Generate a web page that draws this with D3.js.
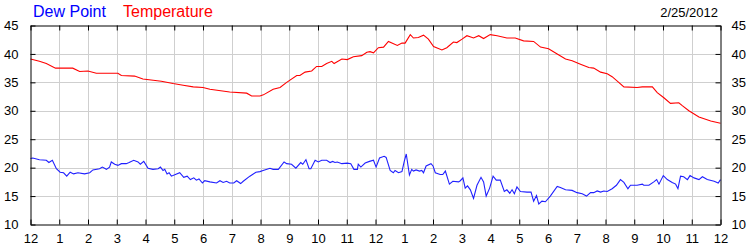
<!DOCTYPE html>
<html>
<head>
<meta charset="utf-8">
<script src="https://cdn.jsdelivr.net/npm/d3@7"></script>
<style>
	body { margin:0; background:#fff; }
	svg { font-family: Arial, "Liberation Sans", sans-serif; }
	.grid line { stroke:#cfcfcf; stroke-width:1; }
	.axis path, .axis line { stroke:#000; }
	.axis text { font-size:13px; fill:#000; }
</style>
</head>
<body>
<div id="chart"></div>
<script>
// hour of the day (0 = midnight) and readings
var tempHours = [0,0.31,0.55,0.87,1.47,1.71,2.00,2.29,3.04,3.16,3.62,3.91,4.55,4.96,5.31,5.66,6.00,6.24,6.93,7.52,7.69,7.98,8.10,8.44,8.68,8.91,9.26,9.37,9.55,9.78,9.95,10.13,10.30,10.48,10.56,10.83,11.02,11.23,11.52,11.70,11.81,11.93,12.10,12.28,12.45,12.76,12.92,13.03,13.21,13.32,13.49,13.67,13.84,14.02,14.31,14.48,14.71,14.83,15.01,15.18,15.41,15.59,15.76,15.99,16.23,16.57,16.86,17.15,17.50,17.74,18.02,18.32,18.61,18.84,19.13,19.42,19.59,19.83,20.06,20.23,20.46,20.64,21.10,21.28,21.63,21.80,22.03,22.26,22.55,22.67,22.90,23.25,23.66,24.00];
var tempValues = [39.1,38.7,38.3,37.5,37.5,36.9,37.0,36.6,36.6,36.2,36.1,35.6,35.2,34.8,34.5,34.2,34.1,33.8,33.3,33.1,32.6,32.6,32.8,33.8,34.1,35.0,36.2,36.2,36.8,37.0,37.8,37.8,38.3,38.7,38.3,39.1,39.0,39.5,39.7,40.3,40.4,40.2,41.1,41.2,42.2,41.5,41.9,41.9,43.4,42.8,42.9,43.3,42.6,41.3,40.7,41.1,42.1,42.0,42.6,43.2,42.8,43.2,42.7,43.4,43.2,42.8,42.8,42.3,42.2,41.2,40.9,40.0,39.1,38.8,38.2,37.6,37.5,36.8,36.5,36.0,35.0,34.2,34.1,34.2,34.2,33.2,32.3,31.3,31.4,30.9,30.0,28.9,28.2,27.8];

var dewHours = [0,0.08,0.31,0.55,0.64,0.76,0.90,1.03,1.15,1.26,1.38,1.50,1.65,1.88,2.06,2.17,2.40,2.50,2.64,2.75,2.81,2.93,3.04,3.16,3.33,3.43,3.59,3.74,3.82,3.94,4.09,4.26,4.44,4.52,4.61,4.67,4.75,4.82,4.90,5.04,5.19,5.33,5.45,5.56,5.68,5.77,5.86,5.98,6.06,6.24,6.47,6.59,6.70,6.82,6.93,7.07,7.17,7.31,7.40,7.63,7.84,7.98,8.09,8.33,8.44,8.62,8.82,8.91,9.08,9.23,9.40,9.47,9.58,9.69,9.75,9.90,10.01,10.13,10.30,10.42,10.51,10.59,10.67,10.83,11.02,11.14,11.25,11.37,11.40,11.49,11.64,11.79,11.93,12.02,12.14,12.30,12.37,12.51,12.62,12.68,12.80,12.92,13.00,13.07,13.18,13.26,13.32,13.41,13.53,13.61,13.67,13.76,13.93,14.00,14.08,14.25,14.34,14.43,14.57,14.69,14.89,14.95,15.04,15.12,15.20,15.30,15.41,15.53,15.67,15.76,15.85,15.97,16.09,16.20,16.34,16.48,16.57,16.67,16.75,16.83,16.92,17.04,17.27,17.41,17.50,17.60,17.68,17.79,17.91,18.08,18.32,18.43,18.61,18.84,19.01,19.19,19.34,19.48,19.59,19.71,19.83,19.94,20.06,20.23,20.38,20.52,20.64,20.78,20.87,21.10,21.28,21.33,21.51,21.68,21.78,21.86,22.01,22.15,22.32,22.44,22.52,22.61,22.72,22.85,22.94,23.08,23.25,23.37,23.54,23.78,23.92,24.00];
var dewValues = [21.6,21.7,21.4,21.3,20.9,21.3,19.8,19.2,19.1,18.5,19.2,18.9,19.1,18.9,19.1,19.6,19.8,20.1,19.7,20.1,21.0,20.6,20.4,20.7,20.7,20.9,21.3,21.0,20.6,21.1,19.9,19.7,19.8,20.1,19.5,19.7,18.9,19.1,18.5,18.8,19.1,18.3,18.5,17.9,18.2,17.8,18.0,17.3,17.7,17.5,17.3,17.7,17.4,17.6,17.3,17.3,17.7,17.2,17.6,18.5,19.2,19.3,19.5,19.9,19.7,19.7,21.0,20.7,20.6,19.9,20.9,20.6,21.4,19.8,19.8,21.3,21.0,21.3,21.3,20.9,21.1,20.9,21.0,20.7,20.8,20.7,19.7,19.7,20.6,20.1,20.8,21.1,21.3,20.1,21.7,22.0,21.8,19.5,19.1,19.5,19.1,19.3,21.1,22.4,18.7,19.7,19.4,19.6,19.4,19.5,19.1,20.3,20.7,20.3,19.1,18.8,18.8,19.4,17.1,17.6,17.5,17.7,18.2,16.4,16.8,16.1,14.6,16.9,18.3,17.5,15.0,16.4,18.5,17.8,17.8,15.8,16.1,15.5,16.1,15.4,16.6,15.8,15.7,15.7,14.1,15.1,13.6,14.1,14.0,15.0,16.7,16.5,16.1,16.0,15.6,15.4,15.0,15.6,15.6,15.9,15.7,15.9,15.8,16.3,16.9,17.9,17.4,16.3,16.9,16.9,17.1,16.9,16.9,17.5,17.9,17.1,18.6,17.9,17.4,17.1,16.3,18.5,18.4,17.9,18.6,18.2,17.9,18.4,17.9,17.6,17.3,17.9];

var hourTicks = d3.range(0, 25);
var hourLabels = ["12","1","2","3","4","5","6","7","8","9","10","11","12","1","2","3","4","5","6","7","8","9","10","11","12"];
var valueTicks = [10,15,20,25,30,35,40,45];
var dateLabel = "2/25/2012";

var width = 750, height = 250;
// plot box (note: "top" is taken by window.top, so use other names)
var plotLeft = 30.5, plotRight = 720.5, plotTop = 25.5, plotBottom = 224.5;

var svg = d3.select("#chart").append("svg")
	.attr("width", width)
	.attr("height", height);

var x = d3.scaleLinear().domain([0, 24]).range([plotLeft, plotRight]);
var y = d3.scaleLinear().domain([10, 45]).range([plotBottom, plotTop]);

// gridlines
var grid = svg.append("g").attr("class","grid");
grid.selectAll("line.v")
	.data(hourTicks.slice(1, 24))
	.enter().append("line")
	.attr("class","v")
	.attr("x1", function(d){ return Math.round(x(d)) + 0.5; })
	.attr("x2", function(d){ return Math.round(x(d)) + 0.5; })
	.attr("y1", plotTop)
	.attr("y2", plotBottom);
grid.selectAll("line.h")
	.data(valueTicks.slice(1, valueTicks.length - 1))
	.enter().append("line")
	.attr("class","h")
	.attr("x1", plotLeft)
	.attr("x2", plotRight)
	.attr("y1", function(d){ return Math.round(y(d)) + 0.5; })
	.attr("y2", function(d){ return Math.round(y(d)) + 0.5; });

// lines
var line = d3.line()
	.x(function(d){ return x(d[0]); })
	.y(function(d){ return y(d[1]); });

var tempData = tempHours.map(function(h, i){ return [h, tempValues[i]]; });
var dewData = dewHours.map(function(h, i){ return [h, dewValues[i]]; });

svg.append("path")
	.datum(tempData)
	.attr("fill","none")
	.attr("stroke","#ff0000")
	.attr("stroke-width",1.1)
	.attr("d", line);

svg.append("path")
	.datum(dewData)
	.attr("fill","none")
	.attr("stroke","#2020ff")
	.attr("stroke-width",1.1)
	.attr("d", line);

// axes, ticks drawn inward
var hourFmt = function(d){ return hourLabels[d]; };

svg.append("g")
	.attr("class","axis")
	.attr("transform","translate(0," + plotBottom + ")")
	.call(d3.axisBottom(x).tickValues(hourTicks).tickFormat(hourFmt).tickSizeInner(-5).tickSizeOuter(0).tickPadding(7))
	.selectAll("text").attr("dy","0.9em");

svg.append("g")
	.attr("class","axis")
	.attr("transform","translate(0," + plotTop + ")")
	.call(d3.axisTop(x).tickValues(hourTicks).tickFormat("").tickSizeInner(-5).tickSizeOuter(0));

svg.append("g")
	.attr("class","axis")
	.attr("transform","translate(" + plotLeft + ",0)")
	.call(d3.axisLeft(y).tickValues(valueTicks).tickSizeInner(-5).tickSizeOuter(0).tickPadding(12));

svg.append("g")
	.attr("class","axis")
	.attr("transform","translate(" + plotRight + ",0)")
	.call(d3.axisRight(y).tickValues(valueTicks).tickSizeInner(-5).tickSizeOuter(0).tickPadding(11));

// legend and date
svg.append("text")
	.attr("x",33)
	.attr("y",17)
	.style("font-size","16px")
	.style("fill","#0000ff")
	.text("Dew Point");
svg.append("text")
	.attr("x",123)
	.attr("y",17)
	.style("font-size","16px")
	.style("fill","#ff0000")
	.text("Temperature");
svg.append("text")
	.attr("x",718)
	.attr("y",17)
	.attr("text-anchor","end")
	.style("font-size","13px")
	.text(dateLabel);
</script>
</body>
</html>
